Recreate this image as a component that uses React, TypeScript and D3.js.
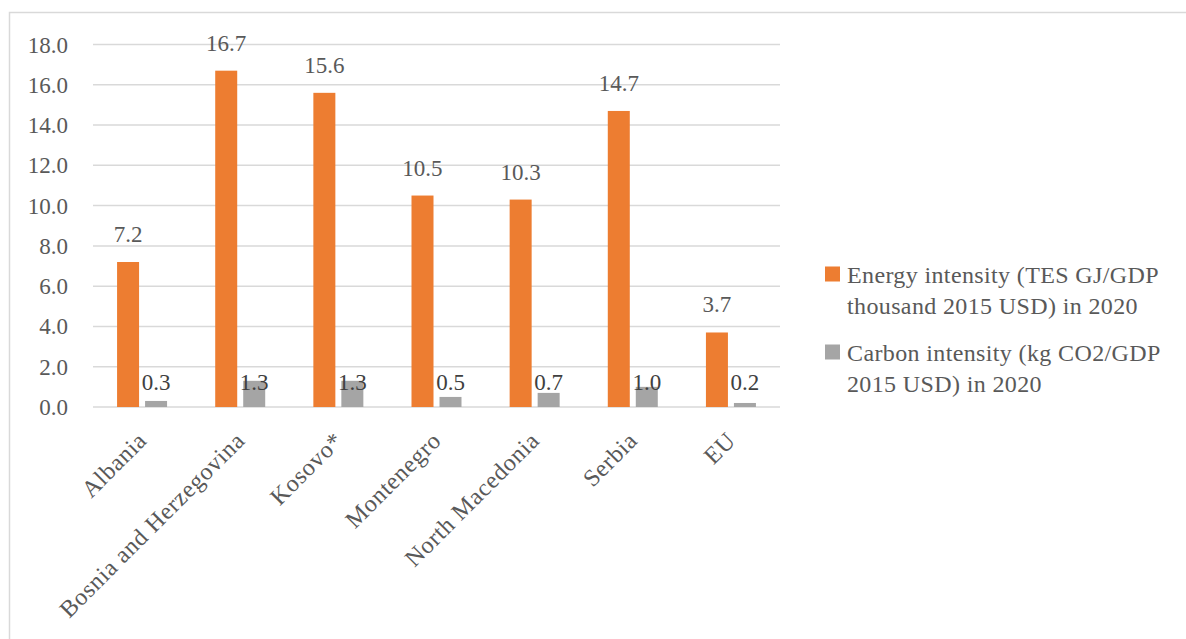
import React from "react";
import * as d3 from "d3";

const categories = ["Albania", "Bosnia and Herzegovina", "Kosovo*", "Montenegro", "North Macedonia", "Serbia", "EU"];
const energyIntensity = [7.2, 16.7, 15.6, 10.5, 10.3, 14.7, 3.7];
const carbonIntensity = [0.3, 1.3, 1.3, 0.5, 0.7, 1.0, 0.2];
const yTicks = [0, 2, 4, 6, 8, 10, 12, 14, 16, 18];
const seriesNames = [
  ["Energy intensity (TES GJ/GDP", "thousand 2015 USD) in 2020"],
  ["Carbon intensity (kg CO2/GDP", "2015 USD) in 2020"],
];
const seriesColors = ["#ED7D31", "#A5A5A5"];

const W = 1186;
const H = 639;
const FONT = "'Liberation Serif', 'Times New Roman', serif";
const TEXT = "#595959";
const GRID = "#D9D9D9";

export default function App() {
  const plotLeft = 93;
  const plotRight = 780;
  const x = d3.scaleBand<string>().domain(categories).range([plotLeft, plotRight]).paddingInner(0).paddingOuter(0);
  const y = d3.scaleLinear().domain([0, 18]).range([407, 44.5]);
  const half = 25;
  const x1 = d3.scaleBand<number>().domain([0, 1]).range([-half, half]).paddingInner(0.2143).paddingOuter(0);
  const fmt = d3.format(".1f");
  const series = [energyIntensity, carbonIntensity];

  return (
    <svg width={W} height={H} style={{ position: "absolute", left: 0, top: 0, display: "block", background: "#fff" }}>
      <rect x={9.5} y={12.5} width={W + 20} height={H + 20} fill="#fff" stroke="#D9D9D9" strokeWidth={1.5} />
      {yTicks.map((t) => (
        <g key={t}>
          <line x1={plotLeft} x2={plotRight} y1={y(t)} y2={y(t)} stroke={GRID} strokeWidth={1.5} />
          <text x={68} y={y(t)} dy="0.35em" textAnchor="end" fontFamily={FONT} fontSize={23} fill={TEXT}>
            {fmt(t)}
          </text>
        </g>
      ))}
      {categories.map((c, i) => {
        const cx = (x(c) as number) + x.bandwidth() / 2;
        return (
          <g key={c}>
            {series.map((vals, s) => {
              const bx = cx + (x1(s) as number);
              const v = vals[i];
              return (
                <g key={s}>
                  <rect x={bx} y={y(v)} width={x1.bandwidth()} height={y(0) - y(v)} fill={seriesColors[s]} />
                  <text
                    x={bx + x1.bandwidth() / 2}
                    y={s === 0 ? y(v) - 20 : y(0) - 17}
                    textAnchor="middle"
                    fontFamily={FONT}
                    fontSize={23}
                    fill={s === 0 ? TEXT : "#404040"}
                  >
                    {fmt(v)}
                  </text>
                </g>
              );
            })}
            <text
              transform={`translate(${cx + 6},${y(0) + 35}) rotate(-45)`}
              textAnchor="end"
              fontFamily={FONT}
              fontSize={24}
              letterSpacing={0.65}
              fill={TEXT}
            >
              {c}
            </text>
          </g>
        );
      })}
      {seriesNames.map((lines, s) => {
        const top = s === 0 ? 266.5 : 344.5;
        return (
          <g key={s}>
            <rect x={825} y={top} width={15} height={15} fill={seriesColors[s]} />
            {lines.map((ln, k) => (
              <text key={k} x={847} y={top + 16.5 + k * 30.5} fontFamily={FONT} fontSize={24} letterSpacing={0.37} fill={TEXT}>
                {ln}
              </text>
            ))}
          </g>
        );
      })}
    </svg>
  );
}
